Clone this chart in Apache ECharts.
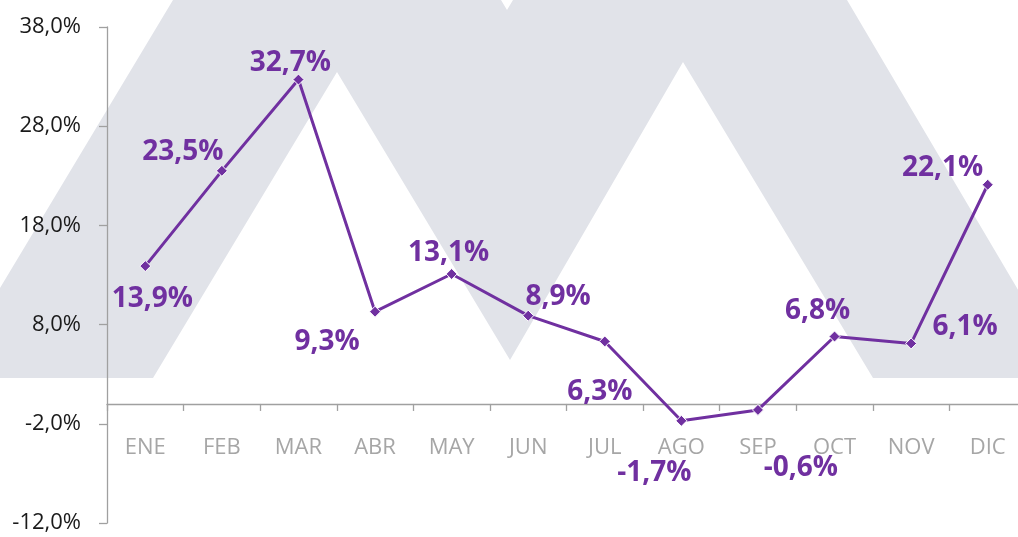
<!DOCTYPE html>
<html>
<head>
<meta charset="utf-8">
<script src="https://cdn.jsdelivr.net/npm/echarts@6/dist/echarts.min.js"></script>
<style>
  html, body { margin: 0; padding: 0; background: #fff; }
  #main { width: 1018px; height: 537px; }
</style>
</head>
<body>
<div id="main"></div>
<script>
// datos
const months = ['ENE', 'FEB', 'MAR', 'ABR', 'MAY', 'JUN', 'JUL', 'AGO', 'SEP', 'OCT', 'NOV', 'DIC']
const growth = [13.9, 23.5, 32.7, 9.3, 13.1, 8.9, 6.3, -1.7, -0.6, 6.8, 6.1, 22.1]
const yTicks = [-12, -2, 8, 18, 28, 38]

// posicion de cada etiqueta respecto al punto
const labelOffsets = [
  [7, 33], [-39, -19], [-8, -17], [-48, 30], [-3, -21], [30, -19],
  [-5, 51], [-27, 52], [43, 58], [-17, -25], [54, -16], [-45, -17]
]

const fmt = v => v.toFixed(1).replace('.', ',') + '%'
const purple = '#7030A0'

// marca de agua gris (M) detras del grafico
const watermark = [
  [-54, 378], [173, 0], [501, 0], [507, 10], [513, 0], [847, 0], [1070, 378],
  [873, 378], [683, 62], [510, 360], [337, 72], [153, 378]
]

const gridTop = 27, gridBottom = 14
const plotH = 537 - gridTop - gridBottom
// distancia del eje cero al borde inferior del grid
const zeroOffset = plotH * (0 - yTicks[0]) / (yTicks[yTicks.length - 1] - yTicks[0])

let myChart = echarts.init(document.getElementById('main'))

let option = {
  backgroundColor: '#fff',
  animation: false,
  graphic: {
    elements: [{
      type: 'polygon',
      z: -10,
      silent: true,
      shape: { points: watermark },
      style: { fill: '#e1e3e9' }
    }]
  },
  grid: {
    left: 107,
    right: -8,
    top: gridTop,
    bottom: gridBottom,
    outerBoundsMode: 'none'
  },
  xAxis: [
    {
      type: 'category',
      data: months,
      boundaryGap: true,
      axisLine: { onZero: true, lineStyle: { color: '#a0a0a0', width: 1.3 } },
      axisTick: { show: true, length: 7, lineStyle: { color: '#a0a0a0', width: 1.3 } },
      axisLabel: { show: false },
      splitLine: { show: false }
    },
    {
      // solo las etiquetas, a la altura del cero
      type: 'category',
      data: months,
      position: 'bottom',
      offset: -zeroOffset,
      boundaryGap: true,
      axisLine: { show: false, onZero: false },
      axisTick: { show: false },
      axisLabel: {
        margin: 33,
        color: '#a6a6a6',
        fontFamily: 'Open Sans',
        fontSize: 22
      },
      splitLine: { show: false }
    }
  ],
  yAxis: {
    type: 'value',
    min: yTicks[0],
    max: yTicks[yTicks.length - 1],
    interval: 10,
    axisLine: { show: true, lineStyle: { color: '#a0a0a0', width: 1.3 } },
    axisTick: { show: true, length: 8, lineStyle: { color: '#a0a0a0', width: 1.3 } },
    axisLabel: {
      margin: 26,
      color: '#1a1a1a',
      fontFamily: 'Open Sans',
      fontSize: 22,
      formatter: fmt
    },
    splitLine: { show: false }
  },
  series: [
    {
      type: 'line',
      data: growth.map((v, i) => ({
        value: v,
        label: { offset: labelOffsets[i] }
      })),
      symbol: 'diamond',
      symbolSize: 11,
      lineStyle: { color: purple, width: 3 },
      itemStyle: { color: purple, borderColor: '#fff', borderWidth: 1 },
      label: {
        show: true,
        position: 'inside',
        color: purple,
        fontFamily: 'Open Sans',
        fontWeight: 'bold',
        fontSize: 28,
        formatter: p => fmt(p.value)
      },
      z: 5
    }
  ]
}

myChart.setOption(option)
</script>
</body>
</html>
